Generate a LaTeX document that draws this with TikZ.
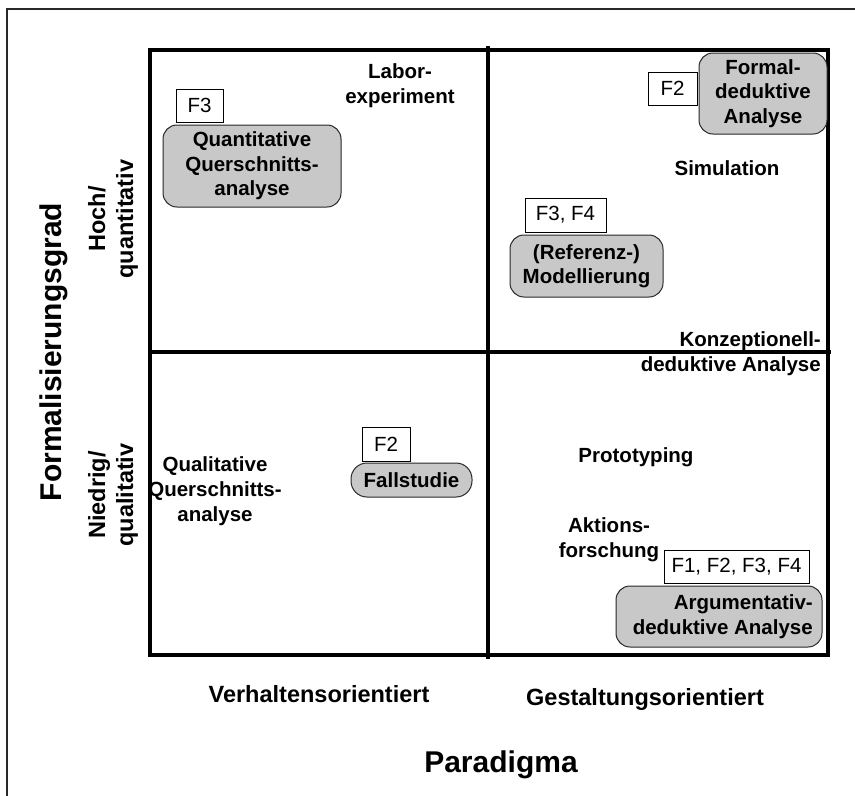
\documentclass[tikz,border=0pt]{standalone}
\usepackage{fontspec}
\setmainfont{Liberation Sans}
\definecolor{boxgray}{RGB}{200,200,200}
\definecolor{framegray}{RGB}{40,40,40}
\begin{document}
\begin{tikzpicture}[x=1pt,y=-1pt,
  lbl/.style={font=\bfseries\fontsize{20.5}{25}\selectfont, align=center, inner sep=0pt},
  sidelbl/.style={font=\bfseries\fontsize{23.5}{28}\selectfont, align=center, inner sep=0pt, rotate=90},
  axislbl/.style={font=\bfseries\fontsize{23.5}{27}\selectfont, align=center, inner sep=0pt},
  axistitle/.style={font=\bfseries\fontsize{30}{34}\selectfont, inner sep=0pt},
  fbox/.style={draw=black, line width=0.9pt, fill=white, inner sep=0pt,
     font=\fontsize{20.5}{25}\selectfont, anchor=center},
  mbox/.style={draw=framegray, line width=1pt, fill=boxgray, rounded corners=14pt,
     inner sep=0pt, font=\bfseries\fontsize{20.5}{24.5}\selectfont, align=center},
  gridline/.style={line width=3.6pt, black}
]
\useasboundingbox (0,0) rectangle (855,796);
% outer frame
\draw[framegray, line width=1.4pt] (7,796) -- (7,9) -- (855,9);
% grid
\draw[gridline] (150,50) rectangle (828,655);
\draw[gridline] (488,46) -- (488,659);
\draw[gridline] (150,352) -- (831,352);

% top-left quadrant
\node[lbl] (labor) at (400,86) {Labor-\\experiment};
\node[mbox, minimum width=178pt, minimum height=82pt] (quant) at (252,166) {Quantitative\\Querschnitts-\\analyse};
\node[fbox, minimum width=47pt, minimum height=33pt] (f3a) at (199.5,105.5) {F3};

% top-right quadrant
\node[mbox, minimum width=128pt, minimum height=81pt] (formal) at (763,93.5) {Formal-\\deduktive\\Analyse};
\node[fbox, minimum width=49pt, minimum height=33pt] (f2a) at (672.5,88.5) {F2};
\node[lbl] (sim) at (727,168) {Simulation};
\node[fbox, minimum width=81pt, minimum height=34pt] (f34) at (565.5,215) {F3, F4};
\node[mbox, minimum width=153pt, minimum height=62pt] (ref) at (586.5,266) {(Referenz-)\\Modellierung};
\node[lbl, align=right, anchor=east] (konz) at (821,354) {Konzeptionell-\\deduktive Analyse};

% bottom-left quadrant
\node[lbl] (qual) at (215,491) {Qualitative\\Querschnitts-\\analyse};
\node[fbox, minimum width=48pt, minimum height=34pt] (f2b) at (386,444) {F2};
\node[mbox, rounded corners=16pt, minimum width=121pt, minimum height=34pt] (fall) at (411.5,480) {Fallstudie};

% bottom-right quadrant
\node[lbl] (proto) at (636,457) {Prototyping};
\node[lbl] (akt) at (609,540) {Aktions-\\forschung};
\node[mbox, minimum width=206pt, minimum height=61pt] (arg) at (719,616.5) {};
\node[lbl, align=right, anchor=east] (argtxt) at (813,616.5) {Argumentativ-\\deduktive Analyse};
\node[fbox, minimum width=145pt, minimum height=33pt] (f1234) at (736.5,566.5) {F1, F2, F3, F4};

% axis labels
\node[axistitle, rotate=90] (formgrad) at (54,352) {Formalisierungsgrad};
\node[sidelbl] (hoch) at (113,219) {Hoch/\\quantitativ};
\node[sidelbl] (niedrig) at (113,495) {Niedrig/\\qualitativ};
\node[axislbl] (verh) at (319,694) {Verhaltensorientiert};
\node[axislbl] (gest) at (645,699) {Gestaltungsorientiert};
\node[axistitle] (para) at (501,765) {Paradigma};
\end{tikzpicture}
\end{document}
